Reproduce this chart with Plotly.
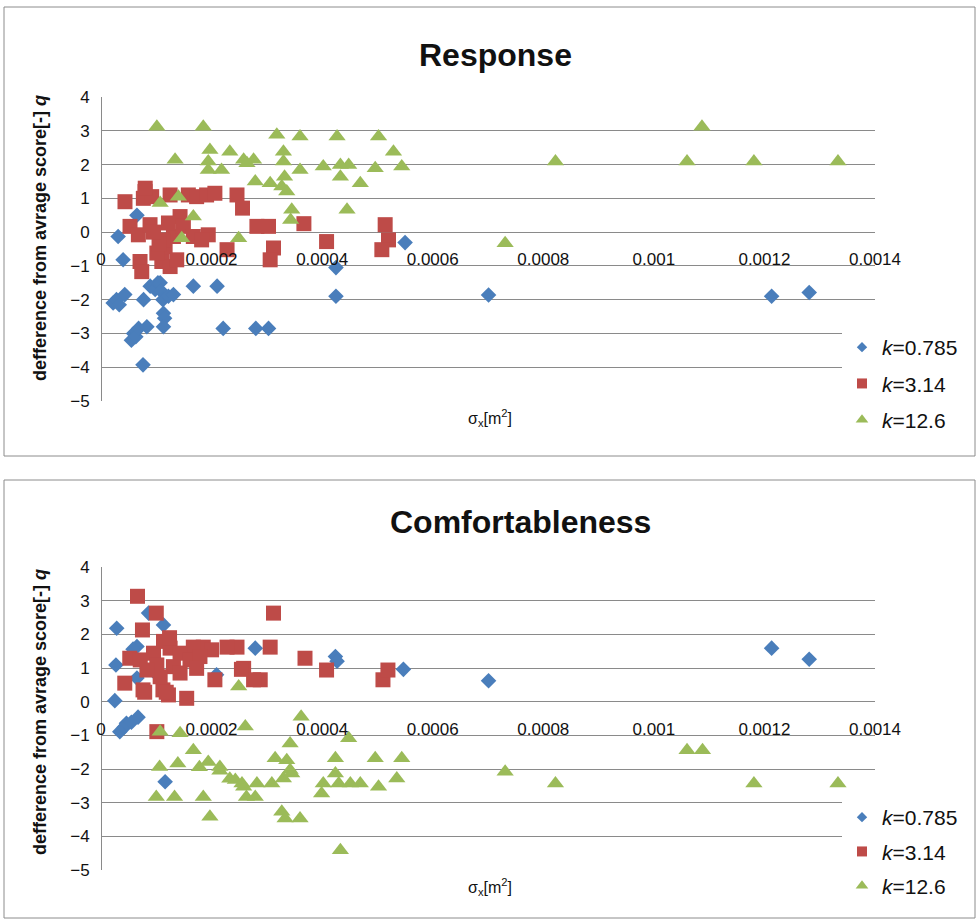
import plotly.graph_objects as go

# ---------------- data ----------------
x_tick_vals = [0, 0.0002, 0.0004, 0.0006, 0.0008, 0.001, 0.0012, 0.0014]
x_tick_text = ["0", "0.0002", "0.0004", "0.0006", "0.0008", "0.001", "0.0012", "0.0014"]
y_tick_vals = [-5, -4, -3, -2, -1, 0, 1, 2, 3, 4]
series_names = ["<i>k</i>=0.785", "<i>k</i>=3.14", "<i>k</i>=12.6"]

# Response
resp_k0785_x = [0.000022, 0.000028, 0.000033, 0.000031, 0.000040, 0.000043, 0.000065, 0.000059, 0.000055,
                 0.000063, 0.000068, 0.000076, 0.000077, 0.000083, 0.000089, 0.000098, 0.000103, 0.000107,
                 0.000109, 0.000112, 0.000113, 0.000115, 0.000113, 0.000122, 0.000131, 0.000167, 0.000210,
                 0.000221, 0.000280, 0.000303, 0.000425, 0.000425, 0.000550, 0.000701, 0.001213, 0.001281]
resp_k0785_y = [-2.1, -2.0, -2.15, -0.13, -0.82, -1.85, 0.5, -3.0, -3.2,
                -3.1, -2.85, -3.93, -2.0, -2.8, -1.6, -1.7, -1.5, -1.5,
                -1.75, -2.0, -2.4, -2.55, -2.8, -1.9, -1.85, -1.6, -1.6,
                -2.85, -2.85, -2.85, -1.05, -1.9, -0.31, -1.86, -1.9, -1.79]

resp_k314_x = [0.0000434, 0.0000796, 0.0000766, 0.0000917, 0.000125, 0.000158, 0.000173, 0.000191, 0.000206,
               0.000246, 0.000256, 0.0000525, 0.0000676, 0.0000887, 0.0000706, 0.0000737, 0.000110, 0.000125,
               0.000137, 0.000116, 0.000131, 0.000143, 0.000122, 0.000149, 0.000167, 0.000194, 0.000182,
               0.000228, 0.000282, 0.000303, 0.000312, 0.000306, 0.000367, 0.000408, 0.000514, 0.000520,
               0.000508, 0.000101, 0.000113, 0.000080, 0.000105, 0.000095]
resp_k314_y = [0.9, 1.2, 1.0, 1.05, 1.1, 1.1, 1.05, 1.1, 1.15,
               1.1, 0.71, 0.17, -0.08, 0.22, -0.87, -1.17, -0.87, -1.02,
               -0.82, -0.43, -0.13, 0.46, 0.27, 0.17, -0.13, -0.08, -0.23,
               -0.52, 0.17, 0.17, -0.47, -0.82, 0.25, -0.28, 0.22, -0.23,
               -0.52, -0.62, -0.23, 1.3, -0.35, 0.0]

resp_k126_x = [0.000101, 0.000185, 0.000318, 0.000360, 0.000427, 0.000502, 0.000134, 0.000197, 0.000194,
               0.000194, 0.000218, 0.000233, 0.000258, 0.000276, 0.000264, 0.000330, 0.000330, 0.000279,
               0.000306, 0.000327, 0.000336, 0.000332, 0.000360, 0.000345, 0.000343, 0.000402, 0.000433,
               0.000448, 0.000433, 0.000469, 0.000496, 0.000445, 0.000529, 0.000544, 0.000107, 0.000140,
               0.000167, 0.000146, 0.000249, 0.000731, 0.000822, 0.001087, 0.001060, 0.001181, 0.001333]
resp_k126_y = [3.12, 3.12, 2.88, 2.83, 2.83, 2.83, 2.14, 2.43, 2.09,
               1.84, 1.84, 2.38, 2.14, 2.14, 2.04, 2.38, 2.09, 1.5,
               1.45, 1.35, 1.2, 1.64, 1.84, 0.66, 0.36, 1.94, 1.99,
               1.99, 1.64, 1.45, 1.89, 0.66, 2.38, 1.94, 0.86, 1.05,
               0.46, -0.18, -0.18, -0.33, 2.09, 3.12, 2.09, 2.09, 2.09]

# Comfortableness
comf_k0785_x = [0.0000284, 0.000027, 0.000025, 0.000034, 0.000042, 0.000046, 0.000055, 0.000067, 0.000086,
                0.000113, 0.000065, 0.000101, 0.000065, 0.000116, 0.000209, 0.000279, 0.000424, 0.000427,
                0.000547, 0.000701, 0.001213, 0.001281, 0.000058, 0.000097]
comf_k0785_y = [2.18, 1.09, 0.03, -0.89, -0.76, -0.64, -0.61, -0.46, 2.63,
                2.28, 1.64, 0.89, 0.7, -2.38, 0.8, 1.59, 1.34, 1.2,
                0.96, 0.62, 1.59, 1.26, 1.56, 0.87]

comf_k314_x = [0.000066, 0.000100, 0.000075, 0.000312, 0.000306, 0.000246, 0.000228, 0.000185, 0.000167,
               0.000200, 0.000258, 0.000288, 0.000276, 0.000206, 0.000155, 0.000369, 0.000408, 0.000510,
               0.000519, 0.000043, 0.000076, 0.000112, 0.000122, 0.000052, 0.000071, 0.000095, 0.000113,
               0.000125, 0.000143, 0.000101, 0.000131, 0.000161, 0.000179, 0.000143, 0.000173, 0.000107,
               0.000083, 0.000101, 0.000124, 0.000079, 0.000118, 0.000254]
comf_k314_y = [3.13, 2.63, 2.13, 2.63, 1.62, 1.62, 1.62, 1.62, 1.62,
               1.54, 0.99, 0.65, 0.65, 0.65, 0.1, 1.29, 0.94, 0.65,
               0.94, 0.55, 0.35, 0.35, 0.2, 1.29, 1.24, 1.44, 1.79,
               1.59, 1.44, 1.09, 1.04, 1.24, 1.34, 0.85, 0.99, 0.74,
               0.94, -0.89, 1.9, 0.28, 0.28, 0.96]

comf_k126_x = [0.000107, 0.000143, 0.000249, 0.000261, 0.000362, 0.000342, 0.000448, 0.000167, 0.000106,
               0.000139, 0.000194, 0.000215, 0.000233, 0.000100, 0.000133, 0.000185, 0.000197, 0.000258,
               0.000315, 0.000336, 0.000342, 0.000330, 0.000345, 0.000424, 0.000496, 0.000544, 0.000535,
               0.000502, 0.000469, 0.000451, 0.000430, 0.000424, 0.000402, 0.000399, 0.000309, 0.000282,
               0.000255, 0.000263, 0.000279, 0.000243, 0.000327, 0.000333, 0.000360, 0.000433, 0.001060,
               0.001088, 0.000822, 0.001181, 0.001333, 0.000731, 0.000178, 0.000215]
comf_k126_y = [-0.89, -0.94, 0.45, -0.74, -0.45, -1.24, -1.09, -1.44, -1.94,
               -1.84, -1.79, -1.94, -2.29, -2.83, -2.83, -2.83, -3.42, -2.53,
               -1.68, -1.74, -2.03, -2.28, -2.13, -1.68, -1.68, -1.68, -2.28,
               -2.53, -2.43, -2.43, -2.43, -2.13, -2.43, -2.73, -2.43, -2.43,
               -2.43, -2.83, -2.83, -2.33, -3.27, -3.47, -3.47, -4.41, -1.44,
               -1.44, -2.43, -2.43, -2.43, -2.08, -1.95, -2.05]

# ---------------- styling ----------------
W, H = 976, 922
FONT = "Liberation Sans, Arial, sans-serif"
BLUE, RED, GREEN = "#4A7EBB", "#BE4B48", "#9BBB59"
GRID = "#8A8A8A"


def py(p):
    return 1 - p / H


def pxx(p):
    return p / W


x_dom = [pxx(101), pxx(875)]
top_dom = [py(401), py(97)]
bot_dom = [py(870), py(567)]
Y_MIN, Y_MAX = -5, 4


def zero_pos(dom):
    return dom[0] + (0 - Y_MIN) / (Y_MAX - Y_MIN) * (dom[1] - dom[0])


fig = go.Figure()

styles = [
    dict(symbol="diamond", size=12, color=BLUE),
    dict(symbol="square", size=15, color=RED),
    dict(symbol="triangle-up", size=15, color=GREEN),
]
legend_styles = [
    dict(symbol="diamond", size=8, color=BLUE),
    dict(symbol="square", size=10, color=RED),
    dict(symbol="triangle-up", size=11, color=GREEN),
]

top_data = [(resp_k0785_x, resp_k0785_y), (resp_k314_x, resp_k314_y), (resp_k126_x, resp_k126_y)]
bot_data = [(comf_k0785_x, comf_k0785_y), (comf_k314_x, comf_k314_y), (comf_k126_x, comf_k126_y)]

for (xs, ys), st, nm in zip(top_data, styles, series_names):
    fig.add_trace(go.Scatter(x=xs, y=ys, mode="markers", name=nm, showlegend=False,
                             marker=dict(symbol=st["symbol"], size=st["size"], color=st["color"],
                                         line=dict(width=0)),
                             xaxis="x", yaxis="y"))
for (xs, ys), st, nm in zip(bot_data, styles, series_names):
    fig.add_trace(go.Scatter(x=xs, y=ys, mode="markers", name=nm, showlegend=False,
                             marker=dict(symbol=st["symbol"], size=st["size"], color=st["color"],
                                         line=dict(width=0)),
                             xaxis="x2", yaxis="y2"))

# legend entries
for i, (st, nm) in enumerate(zip(legend_styles, series_names)):
    for lg, ax in (("legend", ("x", "y")), ("legend2", ("x2", "y2"))):
        fig.add_trace(go.Scatter(x=[None], y=[None], mode="markers", name=nm,
                                 legend=lg, legendgroup=f"{lg}_{i}", showlegend=True,
                                 marker=dict(symbol=st["symbol"], size=st["size"], color=st["color"],
                                             line=dict(width=0)),
                                 xaxis=ax[0], yaxis=ax[1]))

xaxis_common = dict(range=[0, 0.0014], tickvals=x_tick_vals, ticktext=x_tick_text,
                    showgrid=False, zeroline=False, showline=False, ticks="",
                    tickfont=dict(family=FONT, size=17, color="#111"),
                    ticklabelstandoff=15, domain=x_dom, anchor="free", fixedrange=True,
                    automargin=False)
yaxis_common = dict(range=[Y_MIN, Y_MAX], tickvals=y_tick_vals, showgrid=True,
                    gridcolor=GRID, gridwidth=1, zeroline=False, showline=True,
                    linecolor=GRID, linewidth=1, ticks="",
                    tickfont=dict(family=FONT, size=17, color="#111"),
                    ticklabelstandoff=8, anchor="free", position=x_dom[0], fixedrange=True,
                    automargin=False)

legend_common = dict(xanchor="left", yanchor="top", bgcolor="white", borderwidth=0,
                     font=dict(family=FONT, size=21, color="#111"),
                     traceorder="grouped", itemwidth=30)

fig.update_layout(
    template="none",
    width=W, height=H, autosize=False,
    margin=dict(l=0, r=0, t=0, b=0, pad=0, autoexpand=False),
    paper_bgcolor="white", plot_bgcolor="white",
    font=dict(family=FONT, color="#111"),
    xaxis=dict(**xaxis_common, position=zero_pos(top_dom)),
    yaxis=dict(**yaxis_common, domain=top_dom),
    xaxis2=dict(**xaxis_common, position=zero_pos(bot_dom)),
    yaxis2=dict(**yaxis_common, domain=bot_dom),
    legend=dict(**legend_common, x=pxx(842), y=py(327), tracegroupgap=6),
    legend2=dict(**legend_common, x=pxx(842), y=py(797), tracegroupgap=4),
    shapes=[
        dict(type="rect", xref="paper", yref="paper", x0=pxx(4), x1=pxx(975), y0=py(456), y1=py(7),
             line=dict(color="#8C8C8C", width=1)),
        dict(type="rect", xref="paper", yref="paper", x0=pxx(4), x1=pxx(975), y0=py(918), y1=py(480),
             line=dict(color="#8C8C8C", width=1)),
    ],
    annotations=[
        dict(text="<b>Response</b>", x=pxx(495), y=py(55), xref="paper", yref="paper",
             xanchor="center", yanchor="middle",
             showarrow=False, font=dict(family=FONT, size=32, color="#111")),
        dict(text="<b>Comfortableness</b>", x=pxx(520), y=py(522), xref="paper", yref="paper",
             xanchor="center", yanchor="middle",
             showarrow=False, font=dict(family=FONT, size=32, color="#111")),
        dict(text="<b>defference from avrage score[-] <i>q</i></b>", x=pxx(40), y=py(238),
             xref="paper", yref="paper", textangle=-90, showarrow=False,
             xanchor="center", yanchor="middle",
             font=dict(family=FONT, size=18, color="#111")),
        dict(text="<b>defference from avrage score[-] <i>q</i></b>", x=pxx(40), y=py(712),
             xref="paper", yref="paper", textangle=-90, showarrow=False,
             xanchor="center", yanchor="middle",
             font=dict(family=FONT, size=18, color="#111")),
        dict(text="σ<sub>x</sub>[m<sup>2</sup>]", x=pxx(490), y=py(418), xref="paper", yref="paper",
             xanchor="center", yanchor="middle",
             showarrow=False, font=dict(family=FONT, size=16, color="#111")),
        dict(text="σ<sub>x</sub>[m<sup>2</sup>]", x=pxx(490), y=py(887), xref="paper", yref="paper",
             xanchor="center", yanchor="middle",
             showarrow=False, font=dict(family=FONT, size=16, color="#111")),
    ],
)

fig.write_html("out.html", config={"displayModeBar": False},
               post_script="document.body.style.margin='0';document.body.style.overflow='hidden';")
